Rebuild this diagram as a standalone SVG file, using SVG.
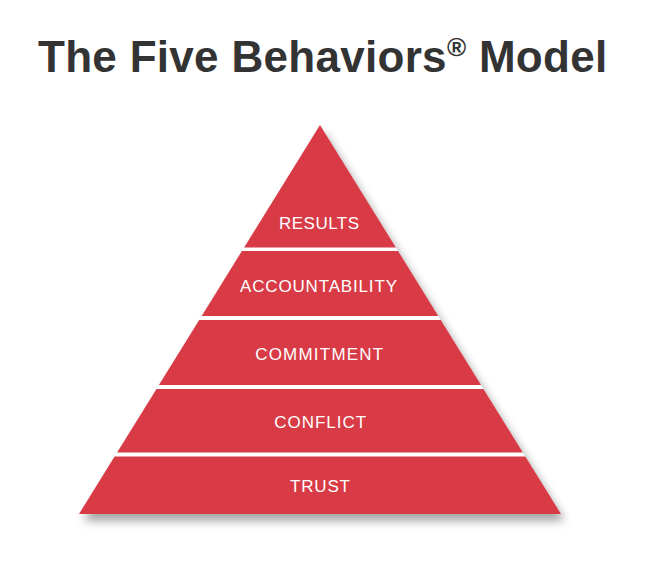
<svg xmlns="http://www.w3.org/2000/svg" width="656" height="572" viewBox="0 0 656 572">
  <defs>
    <style>
      .title { font-family: "Liberation Sans", Arial, sans-serif; font-weight: bold; font-size: 44px; fill: #333333; letter-spacing: 0.3px; }
      .band { fill: #D83B46; }
      .label { font-family: "Liberation Sans", Arial, sans-serif; font-size: 17px; fill: #ffffff; text-anchor: middle; }
    </style>
    <filter id="shadow" x="-20%" y="-20%" width="140%" height="140%">
      <feGaussianBlur stdDeviation="5"/>
    </filter>
  </defs>
  <rect width="656" height="572" fill="#ffffff"/>
  <text class="title" x="38" y="72">The Five Behaviors<tspan font-size="26" dy="-16">®</tspan><tspan dy="16"> Model</tspan></text>

  <g id="pyramid-shadow">
    <polygon points="324,132 565,521 83,521" fill="#000000" opacity="0.35" filter="url(#shadow)"/>
    <polygon points="320,125 561,514 79,514" fill="#ffffff"/>
  </g>

  <g id="results">
    <polygon class="band" points="320,125 395.9,247.5 244.1,247.5"/>
    <text class="label" x="319" y="228.8" textLength="80" lengthAdjust="spacing">RESULTS</text>
  </g>
  <g id="accountability">
    <polygon class="band" points="241.9,251 398.1,251 438.3,316 201.7,316"/>
    <text class="label" x="318.5" y="291.6" textLength="157" lengthAdjust="spacing">ACCOUNTABILITY</text>
  </g>
  <g id="commitment">
    <polygon class="band" points="199.2,320 440.8,320 481.1,385 158.9,385"/>
    <text class="label" x="319.2" y="360.2" textLength="128" lengthAdjust="spacing">COMMITMENT</text>
  </g>
  <g id="conflict">
    <polygon class="band" points="156.5,389 483.5,389 522.9,452.5 117.1,452.5"/>
    <text class="label" x="320.2" y="427.6" textLength="91.7" lengthAdjust="spacing">CONFLICT</text>
  </g>
  <g id="trust">
    <polygon class="band" points="114.6,456.5 525.4,456.5 561,514 79,514"/>
    <text class="label" x="320" y="491.7" textLength="60" lengthAdjust="spacing">TRUST</text>
  </g>
  <g id="connectors"/>
</svg>
